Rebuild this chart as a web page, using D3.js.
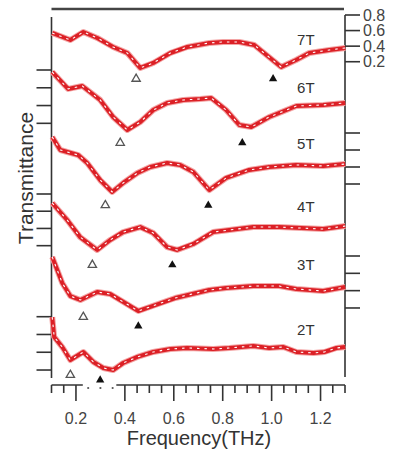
<!DOCTYPE html>
<html>
<head>
<meta charset="utf-8">
<script src="https://cdn.jsdelivr.net/npm/d3@7"></script>
<style>
  body { margin: 0; background: #fff; }
  svg { display: block; font-family: "Liberation Sans", Arial, sans-serif; }
</style>
</head>
<body>
<svg id="chart" width="396" height="453"></svg>
<script>
// Field labels, top to bottom
const fields = ["7T", "6T", "5T", "4T", "3T", "2T"];

// Transmittance spectra (THz, T), one list per field
const spec7T = [[0.103,0.569],[0.177,0.479],[0.230,0.582],[0.287,0.505],[0.352,0.389],[0.410,0.312],[0.463,0.120],[0.516,0.184],[0.586,0.312],[0.655,0.389],[0.745,0.441],[0.802,0.454],[0.868,0.454],[0.929,0.415],[1.039,0.132],[1.100,0.222],[1.154,0.312],[1.236,0.351],[1.301,0.377]];
const spec6T = [[0.103,0.778],[0.168,0.587],[0.226,0.620],[0.299,0.463],[0.352,0.271],[0.410,0.125],[0.463,0.215],[0.516,0.350],[0.573,0.429],[0.639,0.463],[0.708,0.474],[0.753,0.485],[0.814,0.350],[0.868,0.181],[0.917,0.159],[0.990,0.271],[1.101,0.395],[1.211,0.407],[1.301,0.429]];
const spec5T = [[0.103,0.753],[0.136,0.600],[0.209,0.541],[0.246,0.447],[0.299,0.247],[0.348,0.106],[0.393,0.212],[0.451,0.329],[0.504,0.400],[0.573,0.447],[0.626,0.424],[0.680,0.341],[0.745,0.129],[0.814,0.271],[0.908,0.365],[0.990,0.400],[1.101,0.424],[1.211,0.412],[1.301,0.435]];
const spec4T = [[0.103,0.695],[0.164,0.498],[0.217,0.300],[0.287,0.150],[0.340,0.266],[0.393,0.358],[0.463,0.416],[0.516,0.347],[0.573,0.184],[0.614,0.150],[0.680,0.220],[0.761,0.358],[0.827,0.382],[0.925,0.416],[1.031,0.416],[1.211,0.393],[1.301,0.428]];
const spec3T = [[0.103,0.788],[0.144,0.488],[0.177,0.338],[0.218,0.292],[0.287,0.384],[0.340,0.361],[0.401,0.257],[0.455,0.165],[0.524,0.234],[0.606,0.315],[0.745,0.407],[0.814,0.430],[0.925,0.453],[1.031,0.453],[1.101,0.419],[1.211,0.396],[1.301,0.442]];
const spec2T = [[0.103,0.795],[0.111,0.572],[0.144,0.459],[0.177,0.313],[0.230,0.403],[0.271,0.291],[0.312,0.223],[0.352,0.200],[0.393,0.279],[0.451,0.347],[0.516,0.403],[0.586,0.437],[0.655,0.448],[0.761,0.437],[0.827,0.448],[0.925,0.471],[0.990,0.448],[1.048,0.459],[1.101,0.403],[1.171,0.392],[1.216,0.403],[1.265,0.448],[1.301,0.459]];
const spectra = [spec7T, spec6T, spec5T, spec4T, spec3T, spec2T];

// Resonance markers: [THz, T] for the open (low) and filled (high) mode
const openMarks = [[0.446,-0.02],[0.381,-0.02],[0.320,-0.05],[0.267,-0.024],[0.230,0.096],[0.177,0.144]];
const filledMarks = [[1.006,-0.02],[0.880,-0.02],[0.741,-0.05],[0.594,-0.024],[0.455,-0.008],[0.299,0.088]];

// Where each field label sits, in that trace's T units
const labelT = [0.48, 0.60, 0.68, 0.65, 0.70, 0.65];

// Tick values (each trace gets the same four)
const yTicks = [0.2, 0.4, 0.6, 0.8];
const yTickLabels = ["0.2", "0.4", "0.6", "0.8"];
const xMajor = [0.2, 0.4, 0.6, 0.8, 1.0, 1.2];

// Layout: pixel rows for T=0 and T=0.8 of each trace, and which side carries its ticks
const traceRows = [[77.3, 15.0], [141.1, 70.0], [201.0, 133.0], [262.9, 194.0], [325.3, 256.0], [387.8, 316.7]];
const tickSide = ["right", "left", "right", "left", "right", "left"];

const svg = d3.select("#chart");
const axisColor = "#333";
const xLeft = 51.5, xRight = 345, xAxisY = 385;

const x = d3.scaleLinear().domain([0.1, 1.3]).range([xLeft, xRight]);
const yScales = traceRows.map(r => d3.scaleLinear().domain([0, 0.8]).range(r));

// frame
svg.append("line").attr("x1", xLeft).attr("x2", xRight - 1).attr("y1", 9).attr("y2", 9)
    .attr("stroke", "#444").attr("stroke-width", 2.5);
svg.append("line").attr("x1", xLeft).attr("x2", xLeft).attr("y1", 17).attr("y2", 378)
    .attr("stroke", axisColor).attr("stroke-width", 1.6);
svg.append("line").attr("x1", xRight).attr("x2", xRight).attr("y1", 15).attr("y2", 377)
    .attr("stroke", axisColor).attr("stroke-width", 1.6);

// per-trace y ticks
yScales.forEach((ys, i) => {
    const g = svg.append("g");
    const right = tickSide[i] === "right";
    g.selectAll("line").data(yTicks).enter().append("line")
        .attr("x1", right ? xRight : xLeft)
        .attr("x2", right ? xRight + 15 : xLeft - 15)
        .attr("y1", d => ys(d)).attr("y2", d => ys(d))
        .attr("stroke", axisColor).attr("stroke-width", 1.6);
    if (i === 0) {
        g.selectAll("text").data(yTicks).enter().append("text")
            .attr("x", xRight + 18)
            .attr("y", d => ys(d))
            .attr("dy", "0.36em")
            .attr("font-size", 16)
            .attr("fill", "#444")
            .text((d, j) => yTickLabels[j]);
    }
});

// x axis with minor ticks
const xAxisG = svg.append("g");
xAxisG.append("line").attr("x1", xLeft).attr("x2", xRight).attr("y1", xAxisY).attr("y2", xAxisY)
    .attr("stroke", axisColor).attr("stroke-width", 1.6);
const minor = d3.range(0.1, 1.3001, 0.05).map(v => +v.toFixed(2));
xAxisG.selectAll("line.tick").data(minor).enter().append("line")
    .attr("class", "tick")
    .attr("x1", d => x(d)).attr("x2", d => x(d))
    .attr("y1", xAxisY)
    .attr("y2", d => xAxisY + (xMajor.some(m => Math.abs(m - d) < 1e-6) ? 16 : 8))
    .attr("stroke", axisColor).attr("stroke-width", 1.6);
// the gap under the 2T marker
svg.append("rect").attr("x", x(0.228)).attr("y", xAxisY - 3)
    .attr("width", x(0.365) - x(0.228)).attr("height", 14).attr("fill", "#fff");
svg.selectAll("circle.gapdot").data([0.25, 0.3, 0.35]).enter().append("circle")
    .attr("class", "gapdot")
    .attr("cx", d => x(d)).attr("cy", xAxisY + 3).attr("r", 1.1).attr("fill", "#555");

xAxisG.selectAll("text").data(xMajor).enter().append("text")
    .attr("x", d => x(d)).attr("y", 424)
    .attr("text-anchor", "middle")
    .attr("font-size", 16).attr("fill", "#444")
    .text(d => d.toFixed(1));

// axis titles
svg.append("text").attr("x", 199).attr("y", 445)
    .attr("text-anchor", "middle").attr("font-size", 20).attr("fill", "#333")
    .text("Frequency(THz)");
svg.append("text")
    .attr("transform", "translate(33,178) rotate(-90)")
    .attr("text-anchor", "middle").attr("font-size", 21).attr("fill", "#333")
    .text("Transmittance");

// spectra
const line = d3.line();
spectra.forEach((s, i) => {
    const ys = yScales[i];
    const pts = s.map(d => [x(d[0]), ys(d[1])]);
    svg.append("path").attr("d", line(pts)).attr("fill", "none")
        .attr("stroke", "#f3a5a5").attr("stroke-width", 6).attr("stroke-linejoin", "round");
    svg.append("path").attr("d", line(pts)).attr("fill", "none")
        .attr("stroke", "#dc2026").attr("stroke-width", 4).attr("stroke-linejoin", "round");
    svg.append("path").attr("d", line(pts)).attr("fill", "none")
        .attr("stroke", "#fff").attr("stroke-width", 1.1)
        .attr("stroke-dasharray", "2.5,5").attr("stroke-linejoin", "round");
});

// markers
const tri = d3.symbol().type(d3.symbolTriangle).size(30);
openMarks.forEach((m, i) => {
    svg.append("path").attr("d", tri())
        .attr("transform", `translate(${x(m[0])},${yScales[i](m[1])})`)
        .attr("fill", "#fff").attr("stroke", "#555").attr("stroke-width", 1.3);
});
filledMarks.forEach((m, i) => {
    svg.append("path").attr("d", tri())
        .attr("transform", `translate(${x(m[0])},${yScales[i](m[1])})`)
        .attr("fill", "#111");
});

// field labels
svg.selectAll("text.field").data(fields).enter().append("text")
    .attr("class", "field")
    .attr("x", x(1.14)).attr("y", (d, i) => yScales[i](labelT[i]))
    .attr("dy", "0.36em").attr("text-anchor", "middle")
    .attr("font-size", 15).attr("fill", "#333")
    .text(d => d);
</script>
</body>
</html>
